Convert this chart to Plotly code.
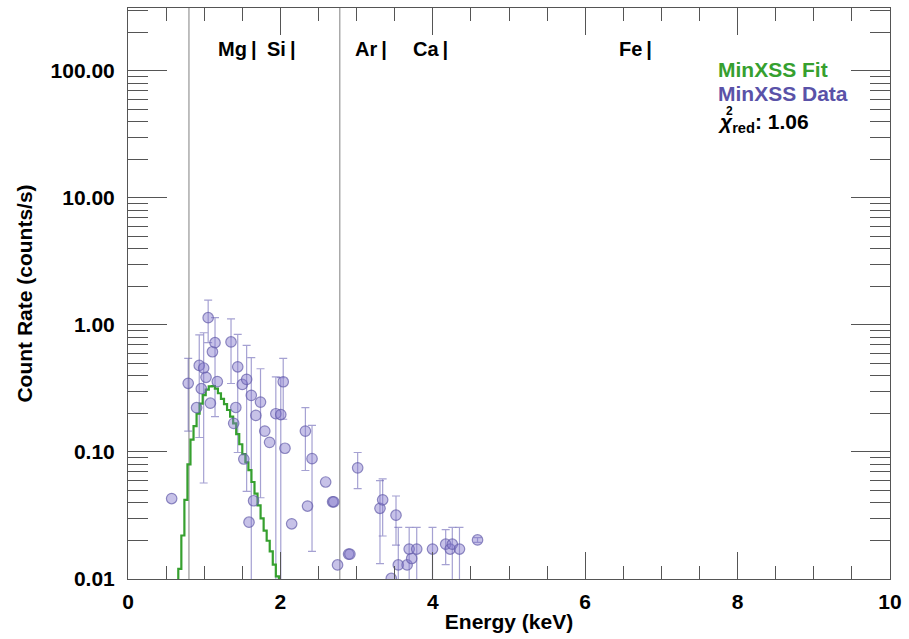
import numpy as np
import plotly.graph_objects as go

# ---------------- data ----------------
# MinXSS data points: energy (keV), count rate (counts/s)
energy = [0.573, 0.79, 0.90, 0.935, 0.962, 0.993, 1.024, 1.052, 1.081, 1.108,
          1.142, 1.172, 1.352, 1.415, 1.387, 1.44, 1.50, 1.52, 1.557, 1.588,
          1.618, 1.648, 1.678, 1.739, 1.795, 1.858, 1.94, 2.005, 2.037, 2.06,
          2.148, 2.328, 2.356, 2.415, 2.594, 2.685, 2.70, 2.75, 2.895, 2.912,
          3.014, 3.307, 3.342, 3.455, 3.517, 3.547, 3.663, 3.69, 3.723, 3.789,
          3.996, 4.169, 4.228, 4.256, 4.35, 4.587]
rate = [0.043, 0.347, 0.223, 0.48, 0.315, 0.458, 0.387, 1.14, 0.242, 0.615,
        0.725, 0.358, 0.735, 0.224, 0.168, 0.468, 0.34, 0.088, 0.373, 0.028,
        0.279, 0.0413, 0.194, 0.247, 0.146, 0.119, 0.20, 0.197, 0.357, 0.107,
        0.0272, 0.146, 0.0375, 0.0886, 0.058, 0.0405, 0.0405, 0.0129, 0.0157, 0.0157,
        0.075, 0.036, 0.042, 0.0101, 0.0318, 0.0129, 0.0129, 0.0172, 0.0145, 0.0172,
        0.0172, 0.0188, 0.0172, 0.0188, 0.0172, 0.0203]
# error bar bounds (upper / lower count rate), None where no bar is drawn
err_upper = [None, 0.545, None, 0.835, None, 0.868, None, 1.57, None, None,
             1.14, None, 1.115, None, None, 0.842, None, None, 0.69, None,
             0.553, None, None, 0.452, None, None, 0.39, 0.385, 0.545, None,
             None, 0.223, None, 0.162, None, None, None, None, None, None,
             0.099, 0.0595, 0.0615, None, 0.045, 0.0255, None, 0.0255, None, 0.0255,
             0.0255, 0.0245, None, 0.0255, 0.0255, 0.0212]
err_lower = [None, 0.146, None, 0.13, None, 0.057, None, 0.725, None, None,
             0.19, None, 0.346, None, None, 0.099, None, None, 0.049, None,
             0.001, None, None, 0.0436, None, None, 0.001, 0.001, 0.181, None,
             None, 0.0715, None, 0.0165, None, None, None, None, None, None,
             0.0515, 0.0132, 0.0218, None, 0.0185, 0.001, None, 0.001, None, 0.001,
             0.001, 0.013, None, 0.001, 0.001, 0.0194]

# MinXSS fit (binned model), bin left edges (keV) and count rate
fit_energy = [0.62, 0.66, 0.70, 0.74, 0.78, 0.82, 0.86, 0.90, 0.94, 0.98,
              1.02, 1.06, 1.10, 1.14, 1.18, 1.22, 1.26, 1.30, 1.34, 1.38,
              1.42, 1.46, 1.50, 1.54, 1.58, 1.62, 1.66, 1.70, 1.74, 1.78,
              1.82, 1.86, 1.90, 1.94, 1.98]
fit_rate = [0.008, 0.012, 0.022, 0.042, 0.08, 0.125, 0.16, 0.20, 0.24, 0.28,
            0.31, 0.328, 0.33, 0.315, 0.29, 0.262, 0.238, 0.214, 0.19, 0.168,
            0.138, 0.115, 0.096, 0.083, 0.072, 0.058, 0.047, 0.038, 0.030, 0.024,
            0.020, 0.0165, 0.013, 0.0105, 0.008]

# fit range boundaries (keV)
fit_range = [0.8, 2.78]

# element line labels
element_names = ["Mg", "Si", "Ar", "Ca", "Fe"]
element_label_x = [1.15, 1.80, 2.95, 3.72, 6.42]

# axis ticks
y_tickvals = [0.01, 0.1, 1, 10, 100]
y_ticktext = ["0.01", "0.10", "1.00", "10.00", "100.00"]
chi2_red = 1.06

# ---------------- figure ----------------
FONT = "Liberation Sans, Arial, Helvetica, sans-serif"
GREEN = "#36a02f"
PURPLE = "#5a52a8"
AXC = "#555555"

fig = go.Figure()

# fit range lines
for xr in fit_range:
    fig.add_shape(type="line", xref="x", yref="paper", x0=xr, x1=xr, y0=0, y1=1,
                  line=dict(color="#808080", width=1), layer="below")

# error bars
eb_x, eb_y, eb_p, eb_m = [], [], [], []
for e, r, u, l in zip(energy, rate, err_upper, err_lower):
    if u is not None:
        eb_x.append(e)
        eb_y.append(r)
        eb_p.append(u - r)
        eb_m.append(r - l)
fig.add_trace(go.Scatter(
    x=eb_x, y=eb_y, mode="markers",
    marker=dict(size=1, color="rgba(0,0,0,0)"),
    error_y=dict(type="data", symmetric=False, array=eb_p, arrayminus=eb_m,
                 color="rgba(105,98,180,0.6)", thickness=1.2, width=4),
    showlegend=False, hoverinfo="skip"))

# fit step curve
fx = list(fit_energy) + [fit_energy[-1] + 0.04]
fy = list(fit_rate) + [fit_rate[-1]]
fig.add_trace(go.Scatter(x=fx, y=fy, mode="lines", line_shape="hv",
                         line=dict(color=GREEN, width=2.2), showlegend=False))

# data points
fig.add_trace(go.Scatter(
    x=energy, y=rate, mode="markers",
    marker=dict(size=10.5, color="rgba(130,120,205,0.45)",
                line=dict(color="rgba(100,92,170,0.7)", width=1.2)),
    showlegend=False))

# element labels
for name, ex in zip(element_names, element_label_x):
    fig.add_annotation(x=ex, y=0.929, xref="x", yref="paper", text=name + "\u2009|",
                       showarrow=False, xanchor="left", yanchor="middle",
                       font=dict(family=FONT, size=20, color="black", weight="bold"))

# legend texts
fig.add_annotation(x=0.772, y=0.893, xref="paper", yref="paper", text="MinXSS Fit",
                   showarrow=False, xanchor="left", yanchor="middle",
                   font=dict(family=FONT, size=21, color=GREEN, weight="bold"))
fig.add_annotation(x=0.772, y=0.850, xref="paper", yref="paper", text="MinXSS Data",
                   showarrow=False, xanchor="left", yanchor="middle",
                   font=dict(family=FONT, size=21, color=PURPLE, weight="bold"))
fig.add_annotation(x=0.772, y=0.798, xref="paper", yref="paper",
                   text="<i>χ</i><sub>red</sub>: %.2f" % chi2_red,
                   showarrow=False, xanchor="left", yanchor="middle",
                   font=dict(family=FONT, size=21, color="black", weight="bold"))
fig.add_annotation(x=0.790, y=0.819, xref="paper", yref="paper", text="2",
                   showarrow=False, xanchor="center", yanchor="middle",
                   font=dict(family=FONT, size=12, color="black", weight="bold"))

y_minor = []
for d in [0.01, 0.1, 1, 10, 100]:
    for k in range(2, 10):
        y_minor.append(d * k)

fig.update_xaxes(range=[0, 10], tickvals=[0, 2, 4, 6, 8, 10],
                 ticktext=["0", "2", "4", "6", "8", "10"],
                 ticks="inside", ticklen=27, tickwidth=1, tickcolor=AXC,
                 minor=dict(tickvals=[i * 0.5 for i in range(21)], ticks="inside",
                            ticklen=13, tickwidth=1, tickcolor=AXC),
                 showline=True, linecolor=AXC, linewidth=1, mirror="ticks",
                 showgrid=False, zeroline=False,
                 tickfont=dict(family=FONT, size=21, color="black", weight="bold"),
                 ticklabelstandoff=4,
                 title=dict(text="Energy (keV)", standoff=2,
                            font=dict(family=FONT, size=21, color="black", weight="bold")))
fig.update_yaxes(type="log", range=[-2, 2.495], tickvals=y_tickvals, ticktext=y_ticktext,
                 ticks="inside", ticklen=39, tickwidth=1, tickcolor=AXC,
                 minor=dict(tickvals=y_minor, ticks="inside", ticklen=20,
                            tickwidth=1, tickcolor=AXC),
                 showline=True, linecolor=AXC, linewidth=1, mirror="ticks",
                 showgrid=False, zeroline=False,
                 tickfont=dict(family=FONT, size=21, color="black", weight="bold"),
                 ticklabelstandoff=8,
                 title=dict(text="Count Rate (counts/s)", standoff=12,
                            font=dict(family=FONT, size=21, color="black", weight="bold")))

fig.update_layout(width=909, height=639, autosize=False,
                  margin=dict(l=128, r=19, t=8, b=60),
                  paper_bgcolor="white", plot_bgcolor="white",
                  showlegend=False)

fig.write_html("out.html")
